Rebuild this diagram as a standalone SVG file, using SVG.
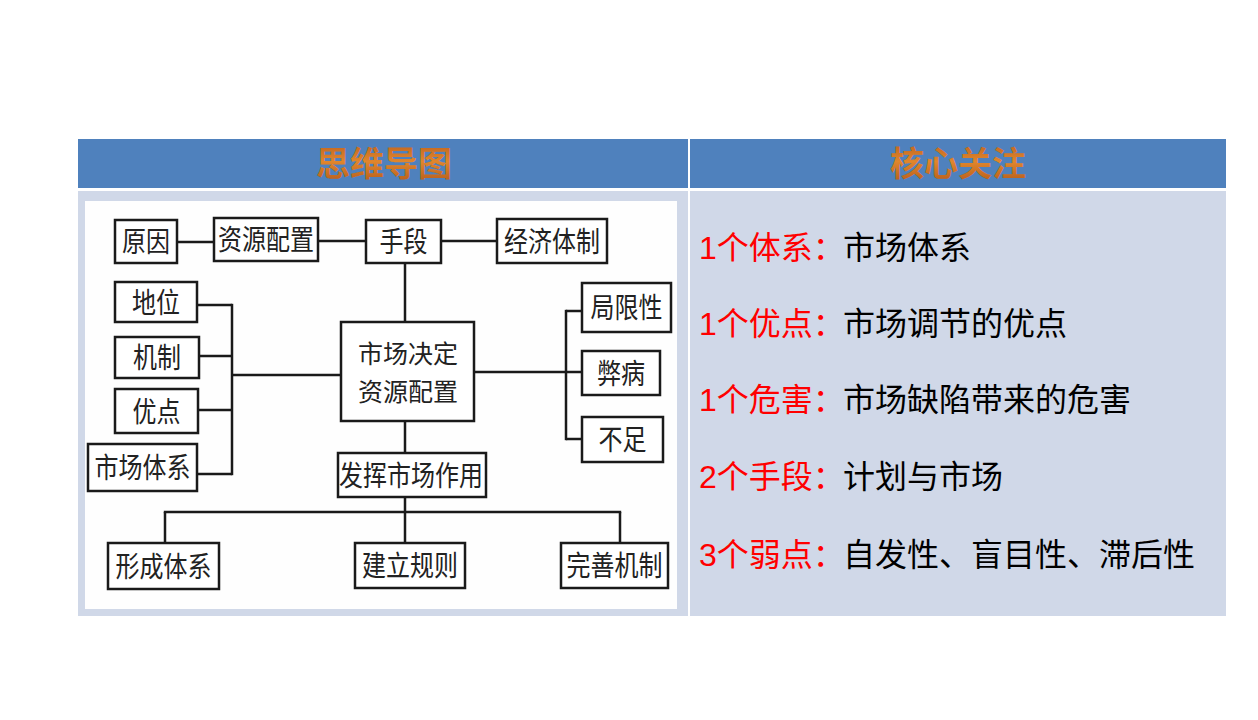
<svg xmlns="http://www.w3.org/2000/svg" width="1258" height="720" viewBox="0 0 1258 720">
<defs>
<linearGradient id="hg" x1="0" y1="0" x2="0" y2="1">
<stop offset="0" stop-color="#B5581A"/>
<stop offset="0.5" stop-color="#E0862C"/>
<stop offset="1" stop-color="#B0561A"/>
</linearGradient>
</defs>
<style>
.box{fill:#fff;stroke:#1a1a1a;stroke-width:2.5}
.lbl{font-family:"Noto Sans CJK SC","Noto Sans CJK JP",sans-serif;font-size:24px;fill:#222;text-anchor:middle}
.hdr{font-family:"Noto Sans CJK SC",sans-serif;font-size:34px;font-weight:bold;fill:url(#hg);text-anchor:middle}
.pt{font-family:"Liberation Sans","Noto Sans CJK SC",sans-serif;font-size:32px}
.red{fill:#FF0000}
.blk{fill:#000}
#connectors line{stroke:#1a1a1a;stroke-width:2.5}
</style>
<rect width="1258" height="720" fill="#fff"/>
<!-- table -->
<rect x="78" y="139" width="610" height="49" fill="#4F81BD"/>
<rect x="690" y="139" width="536" height="49" fill="#4F81BD"/>
<rect x="78" y="191" width="610" height="425" fill="#D0D8E8"/>
<rect x="690" y="191" width="536" height="425" fill="#D0D8E8"/>
<text class="hdr" x="384" y="176">思维导图</text>
<text class="hdr" x="958" y="176">核心关注</text>
<rect x="85" y="201" width="592" height="408" fill="#fefefe"/>
<g id="connectors">
<line x1="177" y1="242" x2="214" y2="242"/>
<line x1="318" y1="241" x2="366" y2="241"/>
<line x1="441" y1="241" x2="497" y2="241"/>
<line x1="405" y1="263" x2="405" y2="322"/>
<line x1="197" y1="305" x2="232" y2="305"/>
<line x1="199" y1="356" x2="232" y2="356"/>
<line x1="198" y1="410" x2="232" y2="410"/>
<line x1="197" y1="474" x2="232" y2="474"/>
<line x1="232" y1="303.8" x2="232" y2="475.2"/>
<line x1="232" y1="375" x2="341" y2="375"/>
<line x1="474" y1="372" x2="582" y2="372"/>
<line x1="566" y1="309.8" x2="566" y2="440.2"/>
<line x1="566" y1="311" x2="582" y2="311"/>
<line x1="566" y1="439" x2="582" y2="439"/>
<line x1="405" y1="421" x2="405" y2="453"/>
<line x1="405" y1="497" x2="405" y2="543"/>
<line x1="163.8" y1="512" x2="621.2" y2="512"/>
<line x1="165" y1="512" x2="165" y2="543"/>
<line x1="620" y1="512" x2="620" y2="543"/>
</g>
<g id="n-yuanyin"><rect class="box" x="115" y="220" width="62" height="43"/><text class="lbl" transform="translate(146,241.5) scale(1,1.2)" y="9">原因</text></g>
<g id="n-ziyuan"><rect class="box" x="214" y="218" width="104" height="43"/><text class="lbl" transform="translate(266,239.5) scale(1,1.2)" y="9">资源配置</text></g>
<g id="n-shouduan"><rect class="box" x="366" y="220" width="75" height="43"/><text class="lbl" transform="translate(403.5,241.5) scale(1,1.2)" y="9">手段</text></g>
<g id="n-jingji"><rect class="box" x="497" y="219" width="110" height="44"/><text class="lbl" transform="translate(552,241) scale(1,1.2)" y="9">经济体制</text></g>
<g id="n-diwei"><rect class="box" x="115" y="282" width="82" height="40"/><text class="lbl" transform="translate(156,302) scale(1,1.2)" y="9">地位</text></g>
<g id="n-jizhi"><rect class="box" x="115" y="337" width="84" height="41"/><text class="lbl" transform="translate(157,357.5) scale(1,1.2)" y="9">机制</text></g>
<g id="n-youdian"><rect class="box" x="115" y="389" width="83" height="44"/><text class="lbl" transform="translate(156.5,411) scale(1,1.2)" y="9">优点</text></g>
<g id="n-tixi"><rect class="box" x="88" y="444" width="109" height="47"/><text class="lbl" transform="translate(142.5,467.5) scale(1,1.2)" y="9">市场体系</text></g>
<g id="n-center"><rect class="box" x="341" y="322" width="133" height="99"/><text class="lbl" style="font-size:25px" x="408" y="362.5">市场决定</text><text class="lbl" style="font-size:25px" x="408" y="400.5">资源配置</text></g>
<g id="n-juxian"><rect class="box" x="582" y="283" width="89" height="49"/><text class="lbl" transform="translate(626.5,307.5) scale(1,1.2)" y="9">局限性</text></g>
<g id="n-bibing"><rect class="box" x="582" y="351" width="78" height="44"/><text class="lbl" transform="translate(621,373) scale(1,1.2)" y="9">弊病</text></g>
<g id="n-buzu"><rect class="box" x="582" y="417" width="81" height="45"/><text class="lbl" transform="translate(622.5,439.5) scale(1,1.2)" y="9">不足</text></g>
<g id="n-fahui"><rect class="box" x="338" y="453" width="148" height="44"/><text class="lbl" transform="translate(411,475) scale(1,1.2)" y="9">发挥市场作用</text></g>
<g id="n-xingcheng"><rect class="box" x="108" y="543" width="111" height="46"/><text class="lbl" transform="translate(163.5,566) scale(1,1.2)" y="9">形成体系</text></g>
<g id="n-jianli"><rect class="box" x="355" y="543" width="110" height="45"/><text class="lbl" transform="translate(410,565.5) scale(1,1.2)" y="9">建立规则</text></g>
<g id="n-wanshan"><rect class="box" x="561" y="543" width="107" height="45"/><text class="lbl" transform="translate(614.5,565.5) scale(1,1.2)" y="9">完善机制</text></g>
<!-- right column -->
<text class="pt" x="699" y="259"><tspan class="red">1个体系：</tspan><tspan class="blk" x="843">市场体系</tspan></text>
<text class="pt" x="699" y="335"><tspan class="red">1个优点：</tspan><tspan class="blk" x="843">市场调节的优点</tspan></text>
<text class="pt" x="699" y="411"><tspan class="red">1个危害：</tspan><tspan class="blk" x="843">市场缺陷带来的危害</tspan></text>
<text class="pt" x="699" y="488"><tspan class="red">2个手段：</tspan><tspan class="blk" x="843">计划与市场</tspan></text>
<text class="pt" x="699" y="566"><tspan class="red">3个弱点：</tspan><tspan class="blk" x="843">自发性、盲目性、滞后性</tspan></text>
</svg>
